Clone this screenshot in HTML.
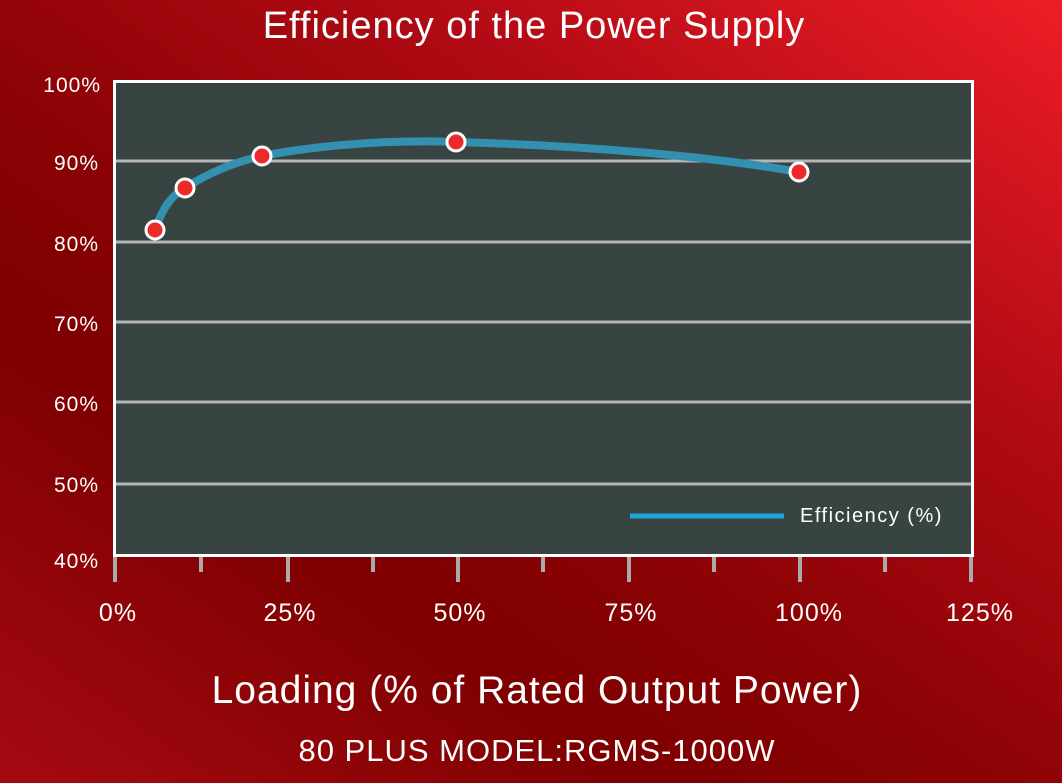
<!DOCTYPE html>
<html><head><style>
html,body{margin:0;padding:0}
body{width:1062px;height:783px;overflow:hidden;background:linear-gradient(215deg,#ee1d26 0%,#b00a14 30%,#8a0204 55%,#7e0000 70%,#a50a12 100%);font-family:"Liberation Sans",sans-serif;color:#fff}
</style></head><body>
<svg width="1062" height="783" viewBox="0 0 1062 783" style="position:absolute;left:0;top:0">
<text x="534" y="38" font-size="38" letter-spacing="1" fill="#fff" text-anchor="middle" font-family="Liberation Sans">Efficiency of the Power Supply</text>
<rect x="114.5" y="81.5" width="858" height="474" fill="#374442" stroke="#fff" stroke-width="3"/>
<g stroke="#b5b5b5" stroke-width="3">
<line x1="116" x2="971" y1="161" y2="161"/>
<line x1="116" x2="971" y1="242" y2="242"/>
<line x1="116" x2="971" y1="322" y2="322"/>
<line x1="116" x2="971" y1="402" y2="402"/>
<line x1="116" x2="971" y1="484" y2="484"/>
</g>
<g stroke="#aaa" stroke-width="4">
<line x1="115" x2="115" y1="557" y2="582"/>
<line x1="288" x2="288" y1="557" y2="582"/>
<line x1="458" x2="458" y1="557" y2="582"/>
<line x1="629" x2="629" y1="557" y2="582"/>
<line x1="800" x2="800" y1="557" y2="582"/>
<line x1="971" x2="971" y1="557" y2="582"/>
<line x1="201" x2="201" y1="557" y2="572"/>
<line x1="373" x2="373" y1="557" y2="572"/>
<line x1="543" x2="543" y1="557" y2="572"/>
<line x1="714" x2="714" y1="557" y2="572"/>
<line x1="885" x2="885" y1="557" y2="572"/>
</g>
<g font-size="21" letter-spacing="1" fill="#fff" text-anchor="end" font-family="Liberation Sans">
<text x="101" y="92">100%</text>
<text x="99" y="170">90%</text>
<text x="99" y="251">80%</text>
<text x="99" y="331">70%</text>
<text x="99" y="411">60%</text>
<text x="99" y="492">50%</text>
<text x="99" y="568">40%</text>
</g>
<g font-size="25" letter-spacing="1" fill="#fff" text-anchor="middle" font-family="Liberation Sans">
<text x="118" y="621">0%</text>
<text x="290" y="621">25%</text>
<text x="460" y="621">50%</text>
<text x="631" y="621">75%</text>
<text x="809" y="621">100%</text>
<text x="980" y="621">125%</text>
</g>
<path d="M155,230 C162,210 170,196 185,188 C210,172 235,162 262,156 C330,143 400,140 456,142 C600,146 720,158 799,172" fill="none" stroke="#3490b0" stroke-width="8" stroke-linecap="round"/>
<g fill="#ec2a2a" stroke="#fff" stroke-width="3">
<circle cx="155" cy="230" r="9"/>
<circle cx="185" cy="188" r="9"/>
<circle cx="262" cy="156" r="9"/>
<circle cx="456" cy="142" r="9"/>
<circle cx="799" cy="172" r="9"/>
</g>
<line x1="630" x2="784" y1="516" y2="516" stroke="#22a5d8" stroke-width="5"/>
<text x="800" y="522" font-size="20" letter-spacing="1.5" fill="#fff" font-family="Liberation Sans">Efficiency (%)</text>
<text x="537" y="703" font-size="39" letter-spacing="1" fill="#fff" text-anchor="middle" font-family="Liberation Sans">Loading (% of Rated Output Power)</text>
<text x="537" y="761" font-size="31" letter-spacing="1" fill="#fff" text-anchor="middle" font-family="Liberation Sans">80 PLUS MODEL:RGMS-1000W</text>
</svg>
</body></html>
